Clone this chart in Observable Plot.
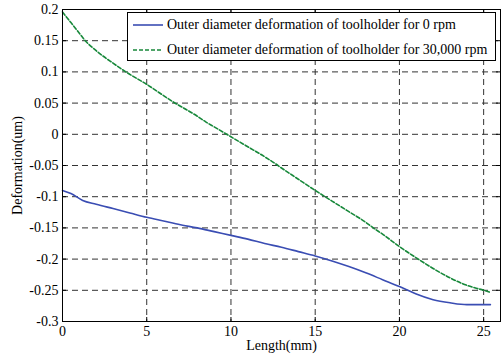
<!DOCTYPE html>
<html>
<head>
<meta charset="utf-8">
<script src="https://cdn.jsdelivr.net/npm/d3@7"></script>
<script src="https://cdn.jsdelivr.net/npm/@observablehq/plot@0.6"></script>
<style>
  html, body { margin: 0; padding: 0; background: #fff; }
  #wrap { position: relative; width: 501px; height: 364px; font-family: "Liberation Serif", "Times New Roman", serif; }
  #legend { position: absolute; left: 127px; top: 12px; width: 369px; height: 49px; box-sizing: border-box;
            border: 1px solid #000; background: #fff; font-size: 14px; color: #000; }
  .row { position: absolute; left: 0; height: 16px; display: flex; align-items: center; white-space: nowrap; }
  .row svg { margin-left: 5px; margin-right: 4px; }
</style>
</head>
<body>
<div id="wrap"></div>
<script>
// ---- data ----
const seriesNames = [
  "Outer diameter deformation of toolholder for 0 rpm",
  "Outer diameter deformation of toolholder for 30,000 rpm"
];
const blueX = [0, 0.5, 1.2, 2, 3, 4, 5, 6, 7, 8, 9, 10, 11, 12, 13, 14, 15, 16, 17, 18, 19, 20, 20.5, 21, 22, 23, 24, 25.4];
const blueY = [-0.090, -0.095, -0.106, -0.112, -0.119, -0.126, -0.133, -0.139, -0.145, -0.150, -0.156, -0.162, -0.168, -0.175, -0.181, -0.188, -0.195, -0.203, -0.212, -0.222, -0.233, -0.244, -0.250, -0.256, -0.265, -0.270, -0.273, -0.273];
const greenX = [0, 0.5, 1, 1.35, 2, 3, 3.76, 5, 6, 6.62, 7, 8, 8.5, 9, 10, 11, 12, 12.63, 13, 14, 15, 16, 17, 18, 18.45, 19, 20, 21, 22, 23, 24, 25, 25.35];
const greenY = [0.196, 0.179, 0.162, 0.150, 0.134, 0.114, 0.100, 0.080, 0.062, 0.051, 0.045, 0.029, 0.020, 0.012, -0.004, -0.020, -0.036, -0.047, -0.054, -0.072, -0.090, -0.107, -0.124, -0.141, -0.150, -0.160, -0.180, -0.198, -0.215, -0.230, -0.242, -0.250, -0.253];
const xTicks = [0, 5, 10, 15, 20, 25];
const yTicks = [0.2, 0.15, 0.1, 0.05, 0, -0.05, -0.1, -0.15, -0.2, -0.25, -0.3];
const xDomain = [0, 26];
const yDomain = [-0.3, 0.2];
const xLabel = "Length(mm)";
const yLabel = "Deformation(um)";

const colors = ["#3a4db3", "#17883a"];
const blue = blueX.map((x, i) => ({x, y: blueY[i]}));
const green = greenX.map((x, i) => ({x, y: greenY[i]}));

const W = 501, H = 364, mL = 62, mR = 1, mT = 9, mB = 43;
const pw = W - mL - mR, ph = H - mT - mB, tk = 4;
const fs = 14;

const chart = Plot.plot({
  width: W, height: H,
  marginLeft: mL, marginRight: mR, marginTop: mT, marginBottom: mB,
  style: {fontFamily: "'Liberation Serif', 'Times New Roman', serif", fontSize: fs + "px", color: "#000", background: "#fff"},
  x: {domain: xDomain},
  y: {domain: yDomain},
  marks: [
    Plot.ruleX(xTicks.filter(d => d > 0), {x: d => d, stroke: "#333", strokeDasharray: "6,4", strokeOpacity: 1}),
    Plot.ruleY(yTicks.filter(d => d > -0.3 && d < 0.2), {y: d => d, stroke: "#333", strokeDasharray: "6,4", strokeOpacity: 1}),
    Plot.tickX(xTicks, {x: d => d, insetTop: ph - tk, stroke: "#000"}),
    Plot.tickX(xTicks, {x: d => d, insetBottom: ph - tk, stroke: "#000"}),
    Plot.tickY(yTicks, {y: d => d, insetRight: pw - tk, stroke: "#000"}),
    Plot.tickY(yTicks, {y: d => d, insetLeft: pw - tk, stroke: "#000"}),
    Plot.line(blue, {x: "x", y: "y", stroke: colors[0], strokeWidth: 1.6, curve: "monotone-x"}),
    Plot.line(green, {x: "x", y: "y", stroke: colors[1], strokeWidth: 1.6, strokeDasharray: "4,2", curve: "monotone-x"}),
    Plot.frame({stroke: "#000", strokeWidth: 1}),
    Plot.axisX({ticks: xTicks, tickSize: 0, tickPadding: 5, tickFormat: d => `${d}`, label: null, fontSize: fs}),
    Plot.axisY({ticks: yTicks, tickSize: 0, tickPadding: 4, tickFormat: d => `${d}`, label: null, fontSize: fs}),
    Plot.text([xLabel], {text: d => d, frameAnchor: "bottom", dy: 24, lineAnchor: "middle", fontSize: fs}),
    Plot.text([yLabel], {text: d => d, frameAnchor: "left", dx: -45, rotate: -90, textAnchor: "middle", lineAnchor: "middle", fontSize: fs})
  ]
});

const wrap = document.getElementById("wrap");
wrap.appendChild(chart);

const legend = document.createElement("div");
legend.id = "legend";
seriesNames.forEach((name, i) => {
  const row = document.createElement("div");
  row.className = "row";
  row.style.top = (i === 0 ? 4 : 29) + "px";
  const dash = i === 1 ? 'stroke-dasharray="4,2"' : "";
  row.innerHTML = `<svg width="30" height="6"><line x1="0" y1="3" x2="30" y2="3" stroke="${colors[i]}" stroke-width="1.6" ${dash}/></svg><span>${name}</span>`;
  legend.appendChild(row);
});
wrap.appendChild(legend);
</script>
</body>
</html>
